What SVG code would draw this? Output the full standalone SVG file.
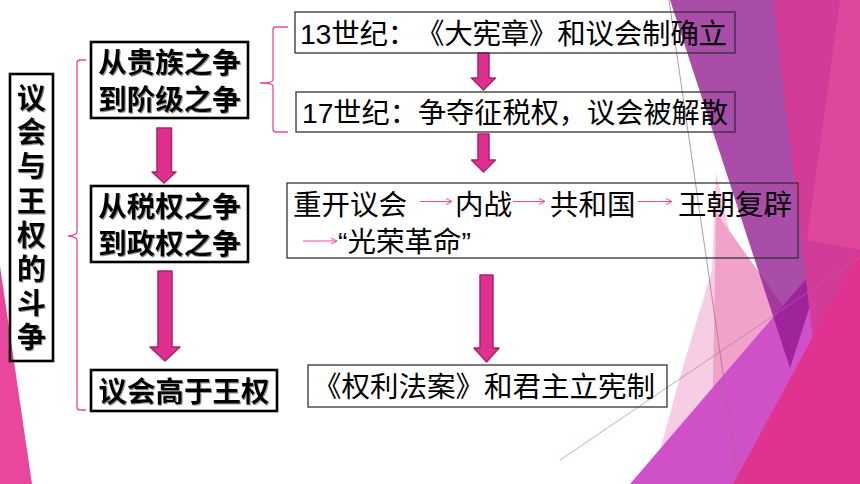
<svg xmlns="http://www.w3.org/2000/svg" width="860" height="484" viewBox="0 0 860 484">
<defs>
<style>
.bx{fill:none;stroke:#000;stroke-width:2.6}
.rb{fill:none;stroke:#333;stroke-width:1.3}
.b{font-family:"Noto Sans CJK SC","Noto Sans CJK TC",sans-serif;font-weight:700;font-size:28.5px;fill:#000}
.t{font-family:"Noto Sans CJK SC","Noto Sans CJK TC",sans-serif;font-weight:700;font-size:29px;fill:#000;writing-mode:vertical-rl;letter-spacing:5.2px}
.r{font-family:"Liberation Sans","Noto Sans CJK SC",sans-serif;font-size:28.5px;fill:#000;text-spacing-trim:space-all}
.r2{font-family:"Liberation Sans","Noto Sans CJK SC",sans-serif;font-size:28.2px;fill:#000;text-spacing-trim:space-all}
.ba{fill:#df2f8f;stroke:#a8236d;stroke-width:1.5;stroke-linejoin:round}
.sa{fill:none;stroke:#e84c9c;stroke-width:1}
.br{fill:none;stroke:#e8489c;stroke-width:1.3}
</style>
<filter id="sh" x="-5%" y="-5%" width="110%" height="120%"><feDropShadow dx="1" dy="1" stdDeviation="0.6" flood-color="#777" flood-opacity="0.8"/></filter>
<marker id="ah" viewBox="0 0 8 8" refX="7" refY="4" markerWidth="8" markerHeight="8" markerUnits="userSpaceOnUse" orient="auto"><path d="M1,1 L7,4 L1,7" fill="none" stroke="#e84c9c" stroke-width="1"/></marker>
</defs>
<rect width="860" height="484" fill="#fff"/>
<g id="background">
<polygon points="0,266 32,484 0,484" fill="#e9479c"/>
<polygon points="716,172 745,300 720,484 651,484 680,377 712,270" fill="#f6cde3"/>
<polygon points="716,212 800,330 712,440" fill="#f0a2ca"/>
<polygon points="630,484 860,216 860,484" fill="#d050c8"/>
<polygon points="670,0 860,0 860,150 790,368" fill="rgb(145,24,143)" fill-opacity="0.77"/>
<polygon points="773,0 860,0 860,484 830,484" fill="#d23b97"/>
<polygon points="840,0 860,0 860,250 807,240" fill="#df479c"/>
<polygon points="733,484 860,250 860,484" fill="#e0328f"/>
<line x1="669" y1="0" x2="739" y2="484" stroke="#a06a88" stroke-opacity="0.7" stroke-width="1"/>
<line x1="560" y1="460" x2="860" y2="257" stroke="#b07090" stroke-opacity="0.6" stroke-width="1"/>
</g>
<g id="connectors">
<path class="br" d="M86,60 H80 Q77,60 77,63 V232 Q77,235 68,236 Q77,237 77,240 V407 Q77,410 80,410 H86"/>
<path class="br" d="M288,27 H276 Q273,27 273,30 V80 Q273,83 260,83 Q273,83 273,86 V129 Q273,132 276,132 H288"/>
<path class="ba" d="M157,128 H171.5 V172 H176 L164,183 L152,172 H157 Z"/>
<path class="ba" d="M158,271 H172 V347 H180 L165,361 L150,347 H158 Z"/>
<path class="ba" d="M478,53 H489 V78 H495.5 L483.5,90 L471.5,78 H478 Z"/>
<path class="ba" d="M478,134 H489 V160 H495.5 L483.5,172 L471.5,160 H478 Z"/>
<path class="ba" d="M480,275 H493 V348 H499 L486.5,362 L474,348 H480 Z"/>
<line class="sa" x1="420" y1="201.5" x2="452" y2="201.5" marker-end="url(#ah)"/>
<line class="sa" x1="513" y1="201.5" x2="545" y2="201.5" marker-end="url(#ah)"/>
<line class="sa" x1="638" y1="201.5" x2="672" y2="201.5" marker-end="url(#ah)"/>
<line class="sa" x1="303" y1="241" x2="337" y2="241" marker-end="url(#ah)"/>
</g>
<g id="title">
<rect class="bx" x="10" y="74" width="43" height="287" stroke-width="3"/>
<text class="t" x="31.5" y="83.5" filter="url(#sh)">议会与王权的斗争</text>
</g>
<g id="node-aristocracy">
<rect class="bx" x="91" y="42" width="157" height="76"/>
<text class="b" text-anchor="middle" filter="url(#sh)"><tspan x="169.5" y="73">从贵族之争</tspan><tspan x="169.5" y="110">到阶级之争</tspan></text>
</g>
<g id="node-tax">
<rect class="bx" x="91" y="186" width="157" height="76"/>
<text class="b" text-anchor="middle" filter="url(#sh)"><tspan x="169.5" y="217">从税权之争</tspan><tspan x="169.5" y="254">到政权之争</tspan></text>
</g>
<g id="node-supremacy">
<rect class="bx" x="91" y="370" width="186" height="41"/>
<text class="b" text-anchor="middle" x="184" y="402" filter="url(#sh)">议会高于王权</text>
</g>
<g id="node-13c">
<rect class="rb" x="295" y="12" width="440" height="41"/>
<text class="r" x="300" y="44" textLength="427" lengthAdjust="spacing">13世纪：《大宪章》和议会制确立</text>
</g>
<g id="node-17c">
<rect class="rb" x="296" y="92" width="439" height="40"/>
<text class="r2" x="302" y="123">17世纪：争夺征税权，议会被解散</text>
</g>
<g id="node-events">
<rect class="rb" x="287" y="183" width="511" height="75"/>
<text class="r" y="215"><tspan x="293">重开议会</tspan><tspan x="455">内战</tspan><tspan x="550">共和国</tspan><tspan x="678">王朝复辟</tspan></text>
<text class="r" x="338" y="252">“光荣革命”</text>
</g>
<g id="node-bill">
<rect class="rb" x="308" y="365" width="359" height="42"/>
<text class="r" x="313" y="397">《权利法案》和君主立宪制</text>
</g>
</svg>
